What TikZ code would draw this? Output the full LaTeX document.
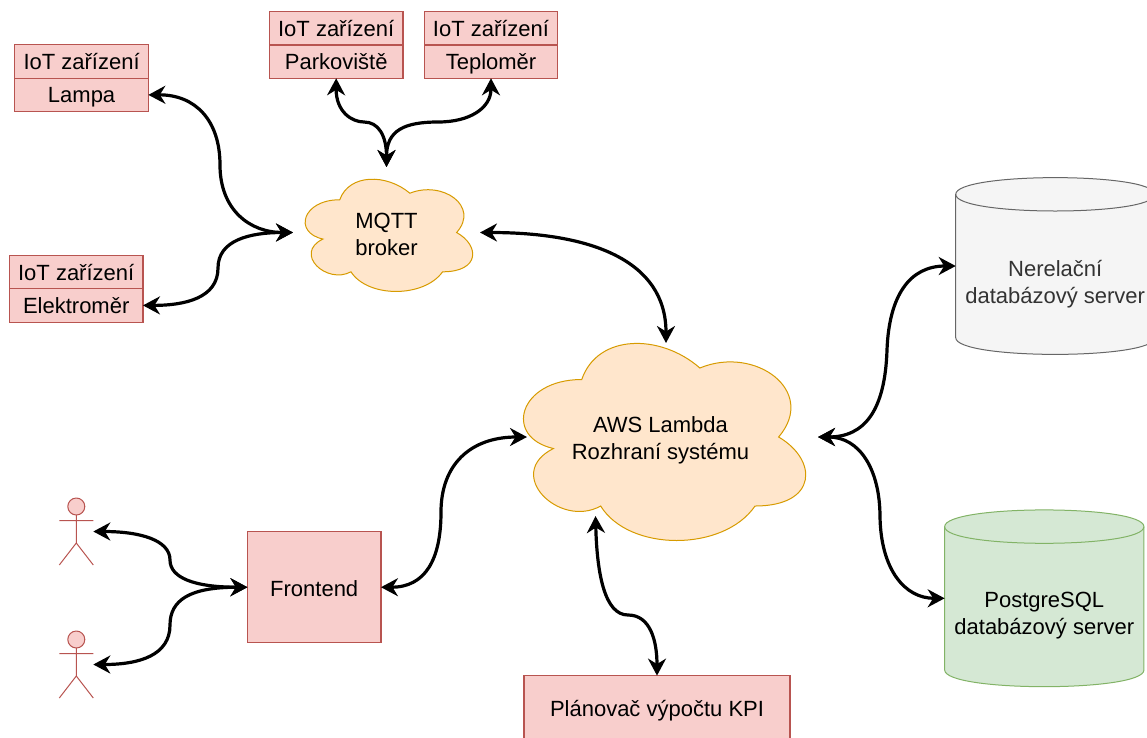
\documentclass[tikz,border=0pt]{standalone}
\usepackage{fontspec}
\setmainfont{Liberation Sans}
\usetikzlibrary{arrows.meta,positioning,backgrounds}
\definecolor{redfill}{HTML}{F8CECC}
\definecolor{redline}{HTML}{B85450}
\definecolor{orangefill}{HTML}{FFE6CC}
\definecolor{orangeline}{HTML}{D79B00}
\definecolor{greyfill}{HTML}{F5F5F5}
\definecolor{greyline}{HTML}{666666}
\definecolor{greenfill}{HTML}{D5E8D4}
\definecolor{greenline}{HTML}{82B366}
\tikzset{
  every node/.style={font=\fontsize{22}{27}\selectfont,align=center,outer sep=0pt,inner sep=0pt},
  redbox/.style={draw=redline,fill=redfill,line width=1.2pt},
  iotcell/.style={redbox,minimum width=133.5pt,minimum height=33.4pt,text height=20pt,text depth=4pt},
  cloudline/.style={draw=orangeline,fill=orangefill,line width=1pt},
  greydb/.style={draw=greyline,fill=greyfill,line width=1pt},
  greendb/.style={draw=greenline,fill=greenfill,line width=1pt},
  actorline/.style={draw=redline,line width=1pt},
  link/.style={line width=3.2pt,
    {Stealth[length=17pt,width=18pt,inset=5.5pt]}-{Stealth[length=17pt,width=18pt,inset=5.5pt]}}
}
\newcommand{\cloudoutline}[3]{%
  \begin{scope}[on background layer,shift={(#1.north west)},x=#2pt,y=-#3pt]
    \draw[cloudline] (.25,.25) .. controls (.05,.25) and (0,.5) .. (.16,.55)
      .. controls (0,.66) and (.18,.9) .. (.31,.8)
      .. controls (.4,1) and (.7,1) .. (.8,.8)
      .. controls (1,.8) and (1,.6) .. (.875,.5)
      .. controls (1,.3) and (.8,.1) .. (.625,.2)
      .. controls (.5,.05) and (.3,.05) .. (.25,.25) -- cycle;
  \end{scope}}
\newcommand{\cylinderoutline}[3]{%
  \begin{scope}[on background layer,shift={(#1.north west)},x=#2pt,y=-1pt]
    \draw[#3] (0,16.7) .. controls (0,-5.6) and (1,-5.6) .. (1,16.7)
      -- (1,160) .. controls (1,182.3) and (0,182.3) .. (0,160) -- cycle;
    \draw[#3,fill=none] (0,16.7) .. controls (0,38.9) and (1,38.9) .. (1,16.7);
  \end{scope}}
\newcommand{\actoroutline}[1]{%
  \begin{scope}[shift={(#1.center)}]
    \draw[actorline,fill=redfill] (0,-25) circle (8.5pt);
    \draw[actorline] (0,-16.5) -- (0,11.5) (-17,-10.8) -- (17,-10.8)
      (-17,33.5) -- (0,11.5) -- (17,33.5);
  \end{scope}}
\begin{document}
\begin{tikzpicture}[x=1pt,y=-1pt]
  \useasboundingbox (0,0) rectangle (1147,737);
  \node[iotcell] (lampaHead) at (81.6,61.5) {IoT zařízení};
  \node[iotcell,below=0pt of lampaHead] (lampa) {Lampa};
  \node[iotcell] (elektromerHead) at (76.2,272) {IoT zařízení};
  \node[iotcell,below=0pt of elektromerHead] (elektromer) {Elektroměr};
  \node[iotcell] (parkovisteHead) at (336.2,28.2) {IoT zařízení};
  \node[iotcell,below=0pt of parkovisteHead] (parkoviste) {Parkoviště};
  \node[iotcell] (teplomerHead) at (491,28.2) {IoT zařízení};
  \node[iotcell,below=0pt of teplomerHead] (teplomer) {Teploměr};
  \node[minimum width=187pt,minimum height=131pt] (mqtt) at (386.5,232.5) {};
  \node (mqttText) at (386.5,234.5) {MQTT\\broker};
  \node[minimum width=315pt,minimum height=230pt] (lambda) at (660.5,437) {};
  \node (lambdaText) at (660.5,440.5) {AWS Lambda\\Rozhraní systému};
  \node[redbox,minimum width=133.5pt,minimum height=111pt,text height=18pt] (frontend) at (314.2,587.2) {Frontend};
  \node[redbox,minimum width=266pt,minimum height=70pt] (planovac) at (657,710.6) {Plánovač výpočtu KPI};
  \node[minimum width=199pt,minimum height=176.7pt] (nerelacni) at (1055.2,266) {};
  \node[text=black!80] (nerelacniText) at (1055.2,284) {Nerelační\\databázový server};
  \node[minimum width=199.3pt,minimum height=176.7pt] (postgres) at (1044.3,598.3) {};
  \node (postgresText) at (1044.3,616) {PostgreSQL\\databázový server};
  \node[minimum width=34pt,minimum height=67pt] (actorA) at (76.3,531.5) {};
  \node[minimum width=34pt,minimum height=67pt] (actorB) at (76.3,664.5) {};
  \coordinate (lambdaTop) at (666,343);
  \coordinate (lambdaLeft) at (527,437);
  \coordinate (lambdaBottom) at (595.5,516);
  \cloudoutline{mqtt}{187}{131}
  \cloudoutline{lambda}{315}{230}
  \cylinderoutline{nerelacni}{199}{greydb}
  \cylinderoutline{postgres}{199.3}{greendb}
  \actoroutline{actorA}
  \actoroutline{actorB}
  \draw[link] (lampa.east) .. controls (195,94.6) and (220,120) .. (220,165)
    .. controls (220,210) and (250,232.5) .. (mqtt.west);
  \draw[link] (elektromer.east) .. controls (185,305.4) and (218,298) .. (218,268)
    .. controls (218,240) and (250,232.5) .. (mqtt.west);
  \draw[link] (parkoviste.south) .. controls (336,112) and (352,122) .. (364,122)
    .. controls (378,122) and (386.5,135) .. (mqtt.north);
  \draw[link] (teplomer.south) .. controls (491,108) and (470,122) .. (438,122)
    .. controls (405,122) and (386.5,130) .. (mqtt.north);
  \draw[link] (mqtt.east) .. controls (590,232.5) and (666,260) .. (lambdaTop);
  \draw[link] (frontend.east) .. controls (425,587.2) and (441,560) .. (441,512)
    .. controls (441,465) and (470,437) .. (lambdaLeft);
  \draw[link] (lambdaBottom) .. controls (597,575) and (605,615) .. (628,615)
    .. controls (650,615) and (657,640) .. (planovac.north);
  \draw[link] (lambda.east) .. controls (865,437) and (885,410) .. (887,350)
    .. controls (889,295) and (910,266) .. (nerelacni.west);
  \draw[link] (lambda.east) .. controls (860,437) and (880,470) .. (880,517)
    .. controls (881,570) and (905,598.3) .. (postgres.west);
  \draw[link] (actorA.east) .. controls (140,531.5) and (170,540) .. (170,560)
    .. controls (170,578) and (195,587.2) .. (frontend.west);
  \draw[link] (actorB.east) .. controls (140,664.5) and (170,655) .. (170,625)
    .. controls (170,600) and (190,587.2) .. (frontend.west);
\end{tikzpicture}
\end{document}
